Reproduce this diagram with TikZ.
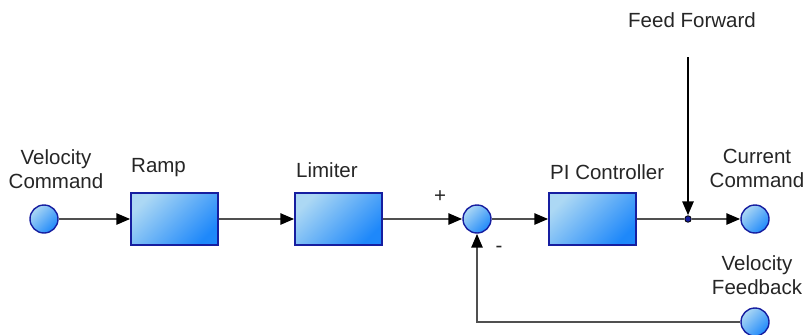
\documentclass[tikz,border=0pt]{standalone}
\usepackage{fontspec}
\setmainfont{Liberation Sans}
\usetikzlibrary{arrows.meta}
\definecolor{lightb}{RGB}{172,216,244}
\definecolor{darkb}{RGB}{30,136,250}
\definecolor{edgeb}{RGB}{22,30,160}
\definecolor{wire}{RGB}{80,80,80}
\tikzset{
  blockbox/.style={draw=edgeb, line width=1.4pt, minimum width=87pt, minimum height=52pt, inner sep=0pt,
    top color=lightb, bottom color=darkb, shading angle=45},
  port/.style={circle, draw=edgeb, line width=1.4pt, minimum size=28pt, inner sep=0pt,
    top color=lightb, bottom color=darkb, shading angle=45},
  wireline/.style={draw=wire, line width=2.7pt},
  arr/.style={wireline, -{Triangle[length=14pt,width=11pt,color=black]}},
  lbl/.style={font=\fontsize{20.5}{24}\selectfont, text=black!85, inner sep=0pt, align=center},
  junction/.style={circle, fill=edgeb, draw=black, line width=0.8pt, minimum size=6.5pt, inner sep=0pt}
}
\begin{document}
\begin{tikzpicture}[x=1pt,y=-1pt]
\path[use as bounding box, fill=white] (0,0) rectangle (804,335);
% nodes
\node[port] (vc) at (44,219) {};
\node[blockbox] (ramp) at (174.5,219) {};
\node[blockbox] (lim) at (338.5,219) {};
\node[port] (sum) at (477,219) {};
\node[blockbox] (pi) at (592.5,219) {};
\node[junction] (j) at (688,219) {};
\node[port] (cc) at (755,219) {};
\node[port] (vf) at (755,322) {};
\coordinate (ff) at (688,57);
% labels
\node[lbl] (lvc) at (56,169) {Velocity\\Command};
\node[lbl, anchor=west] (lramp) at (131,168) {Ramp};
\node[lbl, anchor=west] (llim) at (296,170) {Limiter};
\node[lbl, anchor=west] (lpi) at (550,172) {PI Controller};
\node[lbl] (lff) at (692,20) {Feed Forward};
\node[lbl] (lcc) at (757,168) {Current\\Command};
\node[lbl] (lvf) at (757,275) {Velocity\\Feedback};
\node[lbl] (lplus) at (440,197) {+};
\node[lbl] (lminus) at (499,249) {-};
% connectors
\draw[arr] (vc) -- (ramp);
\draw[arr] (ramp) -- (lim);
\draw[arr] (lim) -- (sum);
\draw[arr] (sum) -- (pi);
\draw[wireline] (pi) -- (j);
\draw[arr] (j) -- (cc);
\draw[arr, draw=black] (ff) -- (j);
\draw[arr] (vf) -| (sum);
\end{tikzpicture}
\end{document}
